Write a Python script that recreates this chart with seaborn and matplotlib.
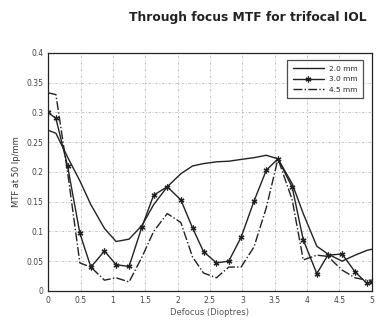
import numpy as np
import pandas as pd
import seaborn as sns
import matplotlib
matplotlib.use('Agg')
import matplotlib.pyplot as plt

# data
defocus = [0, 0.12, 0.3, 0.49, 0.66, 0.87, 1.05, 1.25, 1.45, 1.63, 1.84, 2.05, 2.23, 2.4,
           2.6, 2.79, 2.98, 3.18, 3.37, 3.55, 3.77, 3.94, 4.15, 4.32, 4.54, 4.74, 4.92, 5.0]
mtf_20 = [0.27, 0.265, 0.225, 0.185, 0.145, 0.105, 0.083, 0.087, 0.11, 0.145, 0.175, 0.197, 0.21, 0.214,
          0.217, 0.218, 0.221, 0.224, 0.228, 0.222, 0.18, 0.13, 0.075, 0.062, 0.05, 0.06, 0.068, 0.07]
mtf_30 = [0.30, 0.29, 0.21, 0.097, 0.04, 0.067, 0.044, 0.041, 0.108, 0.161, 0.175, 0.153, 0.106, 0.066,
          0.047, 0.05, 0.09, 0.151, 0.203, 0.222, 0.174, 0.086, 0.029, 0.06, 0.062, 0.032, 0.013, 0.015]
mtf_45 = [0.333, 0.33, 0.2, 0.047, 0.04, 0.018, 0.022, 0.015, 0.057, 0.10, 0.13, 0.115, 0.057, 0.03,
          0.022, 0.04, 0.04, 0.074, 0.14, 0.222, 0.153, 0.052, 0.06, 0.058, 0.035, 0.022, 0.018, 0.018]
labels = ['2.0 mm', '3.0 mm', '4.5 mm']

df = pd.DataFrame({'Defocus': defocus * 3,
                   'MTF': mtf_20 + mtf_30 + mtf_45,
                   'Pupil': np.repeat(labels, len(defocus))})

sns.set_style('white')
fig = plt.figure(figsize=(3.76, 3.25), dpi=100)
ax = fig.add_axes([0.128, 0.105, 0.861, 0.732])

styles = {'2.0 mm': ('-', 'None'),
          '3.0 mm': ('-', (6, 2, 0)),
          '4.5 mm': ('-.', 'None')}
for lab in labels:
    sub = df[df['Pupil'] == lab]
    sns.lineplot(data=sub, x='Defocus', y='MTF', ax=ax, color='#222222', lw=1.0, label=lab)
    ln = ax.lines[-1]
    ln.set_linestyle(styles[lab][0])
    ln.set_marker(styles[lab][1])
    ln.set_markersize(4.2)
    ln.set_markeredgewidth(0.9)
    ln.set_markeredgecolor('#222222')

ax.set_xlim(0, 5)
ax.set_ylim(0, 0.4)
ax.set_xticks(np.arange(0, 5.01, 0.5))
ax.set_xticklabels(['0', '0.5', '1', '1.5', '2', '2.5', '3', '3.5', '4', '4.5', '5'])
ax.set_yticks(np.arange(0, 0.401, 0.05))
ax.set_yticklabels(['0', '0.05', '0.1', '0.15', '0.2', '0.25', '0.3', '0.35', '0.4'])
ax.tick_params(labelsize=5.5, colors='#444444', length=2, direction='in')
ax.grid(True, ls=(0, (3, 2, 1, 2)), color='#bbbbbb', lw=0.6)
for s in ax.spines.values():
    s.set_color('#222222')
    s.set_linewidth(0.9)
ax.set_xlabel('Defocus (Dioptres)', fontsize=6, color='#555555', labelpad=2)
ax.set_ylabel('MTF at 50 lp/mm', fontsize=6, color='#333333', labelpad=4)

ax.legend_.remove()
leg = ax.legend(handles=ax.lines[:3], labels=labels, loc='upper right', fontsize=5.3,
                frameon=True, fancybox=False, edgecolor='#222222', handlelength=4.2,
                borderpad=0.7, labelspacing=0.6, numpoints=1, bbox_to_anchor=(0.985, 0.985))
leg.get_frame().set_linewidth(0.9)

fig.text(0.66, 0.945, 'Through focus MTF for trifocal IOL', ha='center', va='center',
         fontsize=8.8, fontweight='bold', color='#222222')

fig.savefig('out.png', dpi=100, facecolor='white')
